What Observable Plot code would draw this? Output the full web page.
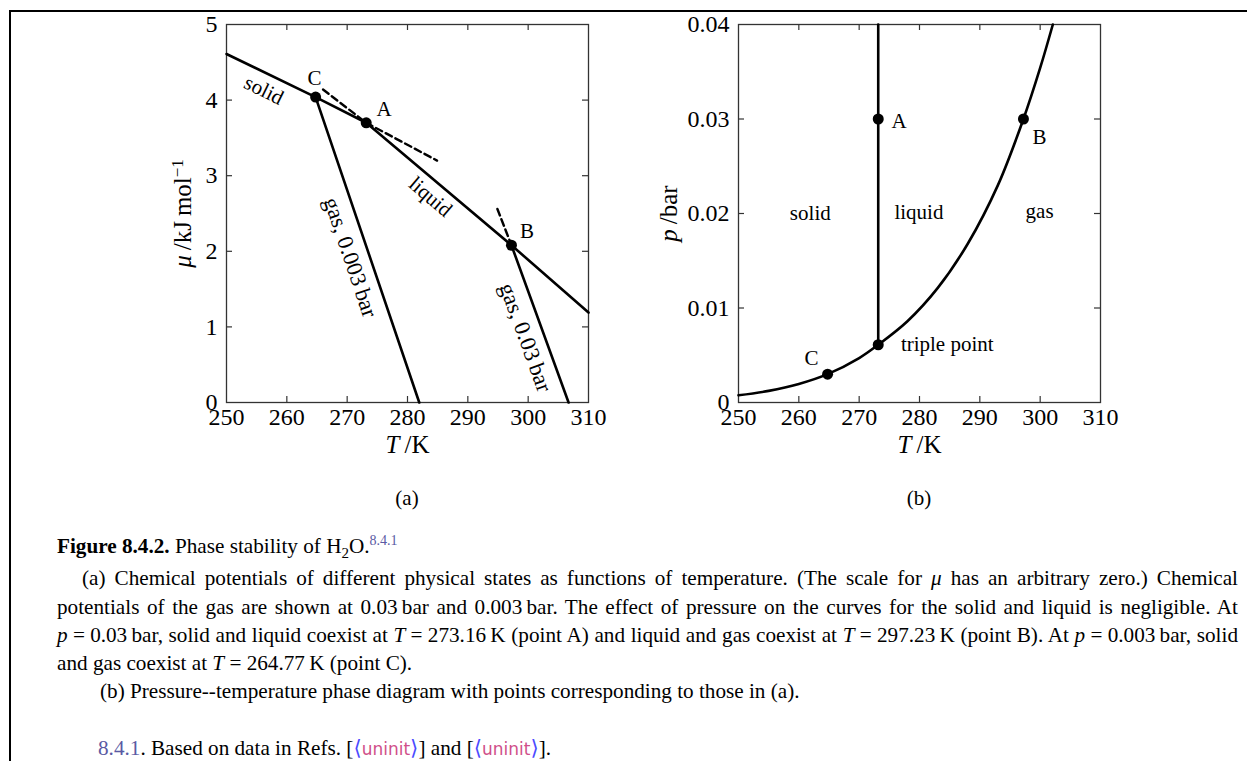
<!DOCTYPE html>
<html>
<head>
<meta charset="utf-8">
<script src="https://cdn.jsdelivr.net/npm/d3@7"></script>
<script src="https://cdn.jsdelivr.net/npm/@observablehq/plot@0.6"></script>
<style>
  html, body { margin: 0; padding: 0; background: #fff; }
  #page { position: relative; width: 1247px; height: 761px; overflow: hidden; font-family: "Liberation Serif", "DejaVu Serif", serif; color: #000; }
  #box { position: absolute; left: 9px; top: 10px; width: 1250px; height: 760px; border-top: 2px solid #000; border-left: 2px solid #000; }
  .plot { position: absolute; top: 12px; }
  .plot svg { overflow: visible; }
  .sub { position: absolute; top: 484px; width: 60px; margin-left: -30px; text-align: center; font-size: 21px; line-height: 28px; }
  .ln { position: absolute; font-size: 21.2px; line-height: 28px; white-space: nowrap; }
  .j { text-align: justify; text-align-last: justify; word-spacing: -2px; }
  .ref { color: #5a5aa3; }
  .br { color: #4b4bff; }
  .un { color: #d0508a; font-family: "DejaVu Sans", sans-serif; font-size: 17px; }
</style>
</head>
<body>
<div id="page">
  <div id="box"></div>
  <div id="plotA" class="plot" style="left:150px"></div>
  <div id="plotB" class="plot" style="left:660px"></div>
  <div class="sub" style="left:407px">(a)</div>
  <div class="sub" style="left:919px">(b)</div>
  <div class="ln" style="left:57px; top:527px;"><b>Figure 8.4.2.</b> Phase stability of H<sub style="font-size:15px">2</sub>O.<sup class="ref" style="font-size:14px">8.4.1</sup></div>
  <div class="ln j" style="left:82px; width:1156px; top:564px;">(a) Chemical potentials of different physical states as functions of temperature. (The scale for <i>μ</i> has an arbitrary zero.) Chemical</div>
  <div class="ln j" style="left:57px; width:1181px; top:593px;">potentials of the gas are shown at 0.03&#8201;bar and 0.003&#8201;bar. The effect of pressure on the curves for the solid and liquid is negligible. At</div>
  <div class="ln j" style="left:57px; width:1181px; top:621px;"><i>p</i>&#8197;=&#8197;0.03&#8201;bar, solid and liquid coexist at <i>T</i>&#8197;=&#8197;273.16&#8201;K (point A) and liquid and gas coexist at <i>T</i>&#8197;=&#8197;297.23&#8201;K (point B). At <i>p</i>&#8197;=&#8197;0.003&#8201;bar, solid</div>
  <div class="ln" style="left:57px; top:649px;">and gas coexist at <i>T</i>&#8197;=&#8197;264.77&#8201;K (point C).</div>
  <div class="ln" style="left:100px; top:677px;">(b) Pressure--temperature phase diagram with points corresponding to those in (a).</div>
  <div class="ln" style="left:98px; top:734px;"><span class="ref">8.4.1</span>. Based on data in Refs. [<span class="br">⟨</span><span class="un">uninit</span><span class="br">⟩</span>] and [<span class="br">⟨</span><span class="un">uninit</span><span class="br">⟩</span>].</div>
</div>
<script>
// ---------- data ----------
const xTicks = [250, 260, 270, 280, 290, 300, 310];
const muTicks = [0, 1, 2, 3, 4, 5];
const pTicks = [0, 0.01, 0.02, 0.03, 0.04];
const pTickLabels = ["0", "0.01", "0.02", "0.03", "0.04"];

// panel (a): chemical potential lines, T (K) and mu (kJ/mol)
const solidT = [250, 264.77, 273.16];
const solidMu = [4.61, 4.04, 3.70];
const liquidT = [273.16, 297.23, 310];
const liquidMu = [3.70, 2.08, 1.19];
const gas003T = [264.77, 281.95];
const gas003Mu = [4.04, 0];
const gas03T = [297.23, 306.7];
const gas03Mu = [2.08, 0];
const solidExtT = [273.16, 284.9];
const solidExtMu = [3.70, 3.20];
const liquidExtT = [266.0, 273.16];
const liquidExtMu = [4.14, 3.70];
const gas03ExtT = [294.9, 297.23];
const gas03ExtMu = [2.56, 2.08];
const pointNames = ["A", "B", "C"];
const pointT = [273.16, 297.23, 264.77];
const pointMu = [3.70, 2.08, 4.04];
const pointLabelT = [276.1, 299.8, 264.6];
const pointLabelMu = [3.88, 2.27, 4.29];
const lineLabels = ["solid", "liquid", "gas, 0.003\u2009bar", "gas, 0.03\u2009bar"];
const lineLabelT = [256.2, 283.8, 270.55, 299.56];
const lineLabelMu = [4.13, 2.72, 1.92, 0.86];
const lineLabelRot = [26, 40.5, 71.3, 70];
const lineLabelSize = [21, 21, 22.5, 22.5];

// panel (b): p-T phase diagram
const vpT = [250, 255, 260, 264.77, 270, 273.16, 278, 283, 288, 293, 297.23, 300, 302.1];
const vpP = [0.00076, 0.00123, 0.00196, 0.0030, 0.0047, 0.00611, 0.0086, 0.0121, 0.0168, 0.0230, 0.0300, 0.0354, 0.0400];
const fusionT = [273.16, 273.16];
const fusionP = [0.00611, 0.04];
const bPointT = [273.16, 297.23, 264.77, 273.16];
const bPointP = [0.03, 0.03, 0.003, 0.00611];
const bLabels = ["A", "B", "C", "triple point", "solid", "liquid", "gas"];
const bLabelT = [276.6, 299.9, 262.1, 284.6, 261.9, 279.9, 299.9];
const bLabelP = [0.0298, 0.0281, 0.00466, 0.00619, 0.0200, 0.0201, 0.0202];

// ---------- helpers ----------
const W = 362, H = 378, TICK = 6, FRAME = "#333";
const zip = (xs, ys) => xs.map((x, i) => ({x, y: ys[i]}));
const font = {fontFamily: "'Liberation Serif', 'DejaVu Serif', serif", fontSize: "24px", overflow: "visible", background: "transparent"};

function inwardTicks(xt, yt) {
  const xi = xt.slice(1, -1), yi = yt.slice(1, -1);
  return [
    Plot.ruleX(xi, {x: d => d, insetTop: H - TICK, stroke: FRAME, strokeWidth: 1.2}),
    Plot.ruleX(xi, {x: d => d, insetBottom: H - TICK, stroke: FRAME, strokeWidth: 1.2}),
    Plot.ruleY(yi, {y: d => d, insetRight: W - TICK, stroke: FRAME, strokeWidth: 1.2}),
    Plot.ruleY(yi, {y: d => d, insetLeft: W - TICK, stroke: FRAME, strokeWidth: 1.2})
  ];
}

function styleLabel(svg, raw, parts) {
  d3.select(svg).selectAll("text").filter(function () { return this.textContent === raw; }).each(function () {
    const t = d3.select(this);
    t.text(null);
    for (const p of parts) {
      const s = t.append("tspan").text(p.text);
      if (p.italic) s.attr("font-style", "italic");
      if (p.size) s.attr("font-size", p.size);
      if (p.dy) s.attr("dy", p.dy);
    }
  });
}

const line = (xs, ys, extra = {}) => Plot.line(zip(xs, ys), {x: "x", y: "y", stroke: "#000", strokeWidth: 2.6, ...extra});
const xTitle = () => Plot.text(["T/K"], {frameAnchor: "bottom", dy: 42, lineAnchor: "middle", textAnchor: "middle", text: d => d, fontSize: 25});
const yTitle = (s, dx) => Plot.text([s], {frameAnchor: "left", dx, rotate: -90, lineAnchor: "middle", textAnchor: "middle", text: d => d, fontSize: 25});

// ---------- panel (a) ----------
const plotA = Plot.plot({
  width: 460, height: 448,
  marginLeft: 76, marginRight: 22, marginTop: 12, marginBottom: 58,
  style: font,
  x: {domain: [250, 310], axis: null},
  y: {domain: [0, 5], axis: null},
  marks: [
    Plot.frame({stroke: FRAME, strokeWidth: 1.3}),
    ...inwardTicks(xTicks, muTicks),
    Plot.axisX({ticks: xTicks, tickSize: 0, tickPadding: 5, label: null, fontSize: 24, tickFormat: d => String(d)}),
    Plot.axisY({ticks: muTicks, tickSize: 0, tickPadding: 9, label: null, fontSize: 24, tickFormat: d => String(d)}),
    line(solidT, solidMu),
    line(liquidT, liquidMu),
    line(gas003T, gas003Mu),
    line(gas03T, gas03Mu),
    line(solidExtT, solidExtMu, {strokeDasharray: "7,4", strokeWidth: 2.4}),
    line(liquidExtT, liquidExtMu, {strokeDasharray: "7,4", strokeWidth: 2.4}),
    line(gas03ExtT, gas03ExtMu, {strokeDasharray: "7,4", strokeWidth: 2.4}),
    Plot.dot(zip(pointT, pointMu), {x: "x", y: "y", r: 5.5, fill: "#000", stroke: null}),
    Plot.text(pointNames.map((n, i) => ({n, x: pointLabelT[i], y: pointLabelMu[i]})), {x: "x", y: "y", text: "n", fontSize: 21}),
    ...lineLabels.map((s, i) => Plot.text([{s, x: lineLabelT[i], y: lineLabelMu[i]}], {x: "x", y: "y", text: "s", rotate: lineLabelRot[i], fontSize: lineLabelSize[i]})),
    xTitle(),
    yTitle("mu/kJ mol-1", -44)
  ]
});
styleLabel(plotA, "T/K", [{text: "T", italic: true}, {text: "\u2009/K"}]);
styleLabel(plotA, "mu/kJ mol-1", [{text: "μ", italic: true}, {text: "\u2009/kJ\u2009mol"}, {text: "\u22121", size: 17, dy: "-0.45em"}]);
document.getElementById("plotA").append(plotA);

// ---------- panel (b) ----------
const plotB = Plot.plot({
  width: 460, height: 448,
  marginLeft: 78, marginRight: 20, marginTop: 12, marginBottom: 58,
  style: font,
  x: {domain: [250, 310], axis: null},
  y: {domain: [0, 0.04], axis: null},
  marks: [
    Plot.frame({stroke: FRAME, strokeWidth: 1.3}),
    ...inwardTicks(xTicks, pTicks),
    Plot.axisX({ticks: xTicks, tickSize: 0, tickPadding: 5, label: null, fontSize: 24, tickFormat: d => String(d)}),
    Plot.axisY({ticks: pTicks, tickSize: 0, tickPadding: 9, label: null, fontSize: 24, tickFormat: d => pTickLabels[pTicks.indexOf(d)]}),
    line(vpT, vpP, {curve: "catmull-rom"}),
    line(fusionT, fusionP),
    Plot.dot(zip(bPointT, bPointP), {x: "x", y: "y", r: 5.5, fill: "#000", stroke: null}),
    Plot.text(bLabels.map((n, i) => ({n, x: bLabelT[i], y: bLabelP[i]})), {x: "x", y: "y", text: "n", fontSize: 21}),
    xTitle(),
    yTitle("p/bar", -70)
  ]
});
styleLabel(plotB, "T/K", [{text: "T", italic: true}, {text: "\u2009/K"}]);
styleLabel(plotB, "p/bar", [{text: "p", italic: true}, {text: "\u2009/bar"}]);
document.getElementById("plotB").append(plotB);
</script>
</body>
</html>
